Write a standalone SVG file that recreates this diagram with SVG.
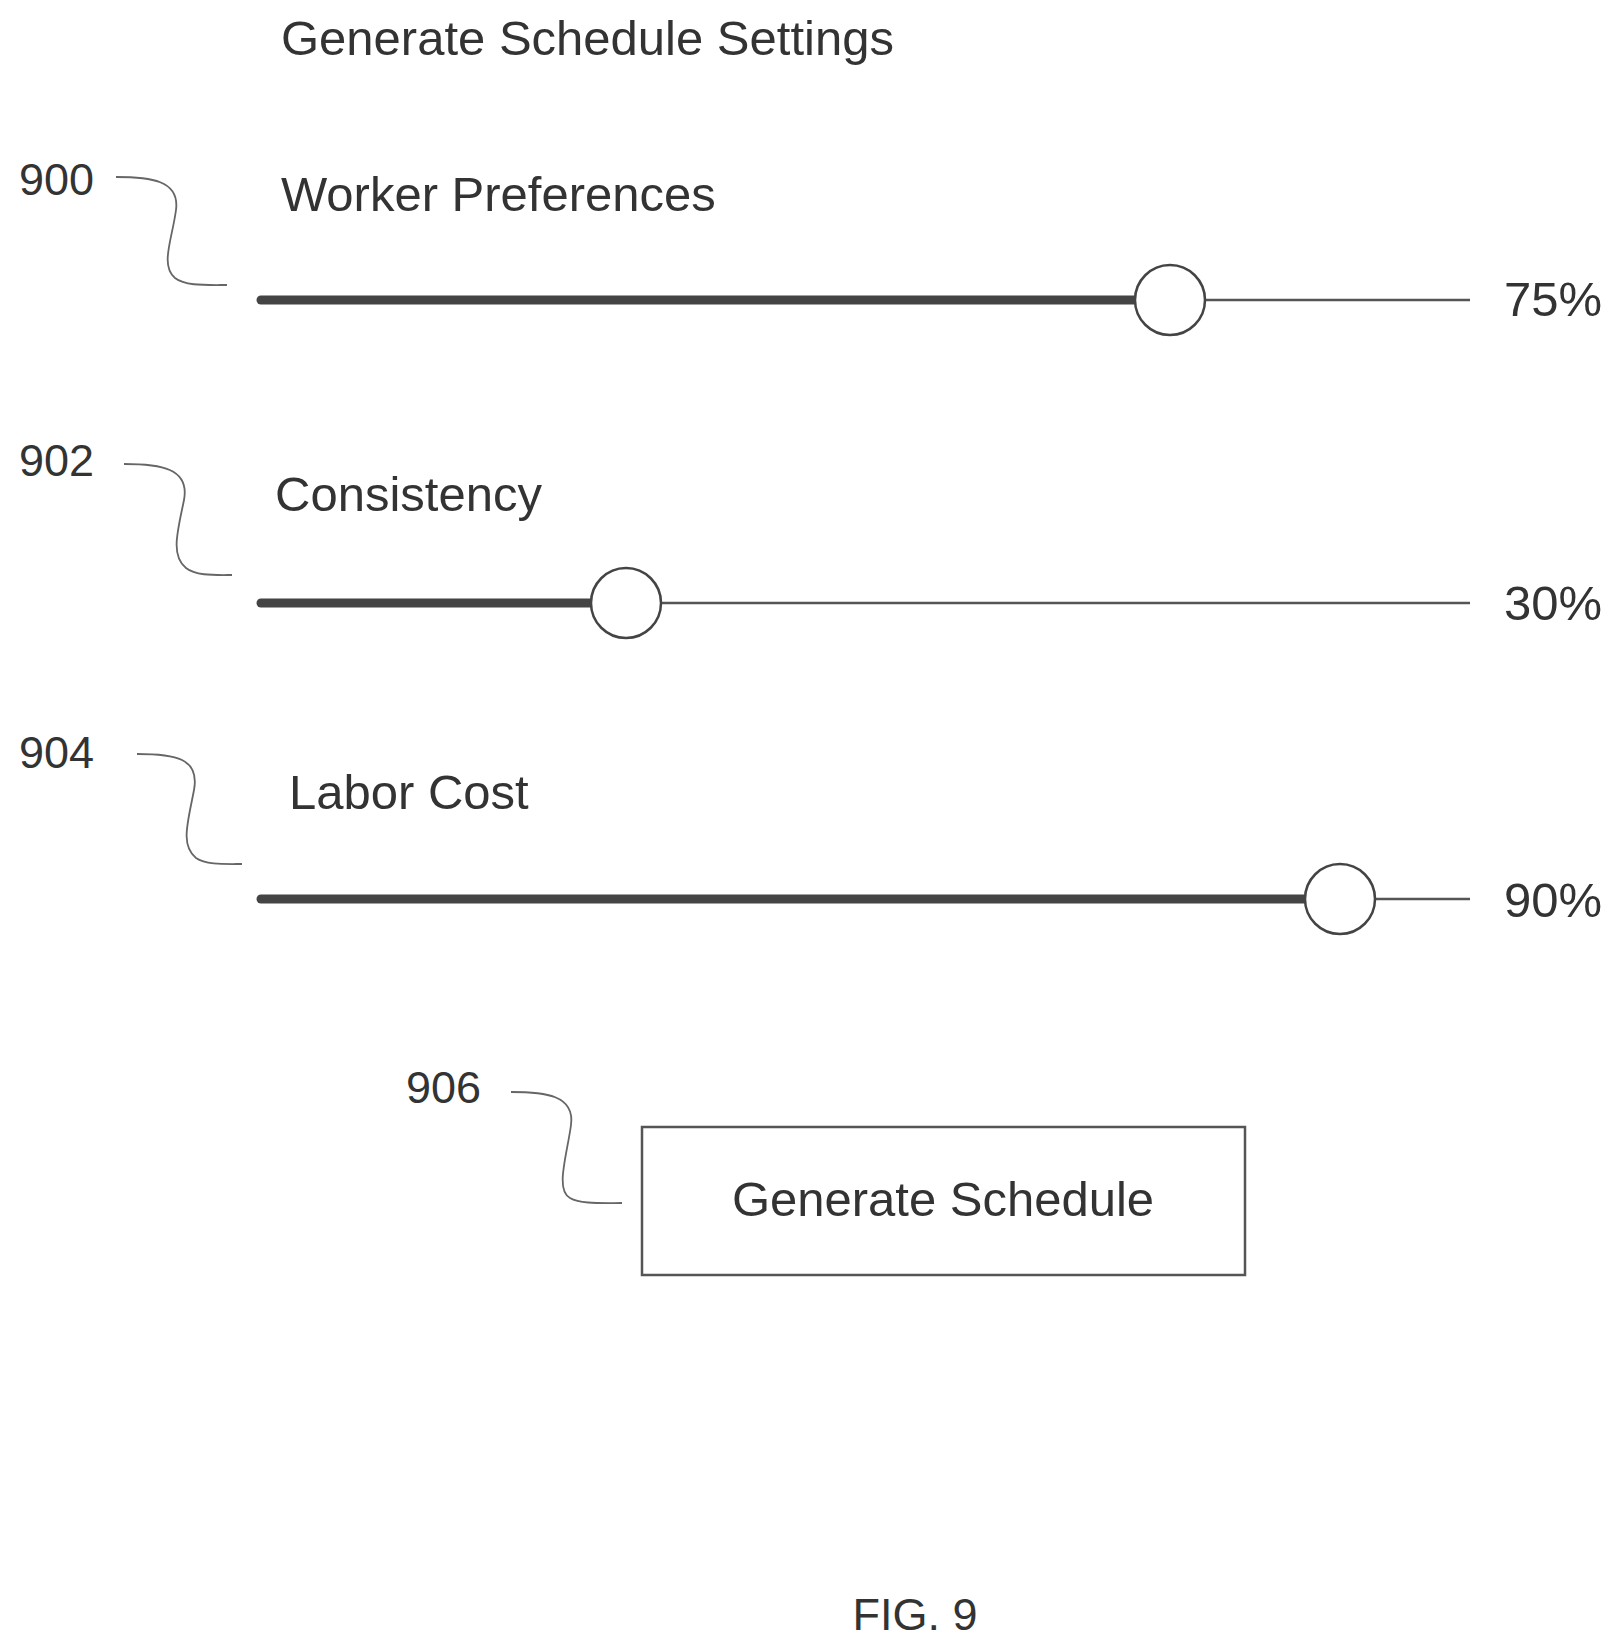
<svg xmlns="http://www.w3.org/2000/svg" width="1619" height="1648" viewBox="0 0 1619 1648">
<style>
text{font-family:"Liberation Sans",Arial,sans-serif;fill:#333}
.t{font-size:49px}
.n{font-size:45px}
.thick{stroke:#444;stroke-width:9;stroke-linecap:round;fill:none}
.thin{stroke:#555;stroke-width:2.5;fill:none}
.knob{fill:#fff;stroke:#444;stroke-width:2.5}
.lead{stroke:#666;stroke-width:1.8;fill:none}
</style>
<rect width="1619" height="1648" fill="#fff"/>
<text class="t" x="281" y="55">Generate Schedule Settings</text>
<g id="connectors">
<path class="lead" d="M116,177 C150,177 180,180 176,210 C172,240 160,265 175,278 C185,286 205,285 227,285"/>
<path class="lead" d="M124,464 C160,464 190,468 184,500 C178,530 170,555 186,568 C196,576 215,575 232,575"/>
<path class="lead" d="M137,754 C175,754 200,758 194,790 C188,822 180,845 196,858 C206,865 225,864 242,864"/>
<path class="lead" d="M511,1092 C545,1092 575,1095 571,1125 C567,1155 555,1190 570,1198 C580,1204 600,1203 622,1203"/>
</g>
<g id="n900">
<text class="n" x="19" y="195">900</text>
<text class="t" x="281" y="211">Worker Preferences</text>
<line class="thin" x1="1170" y1="300" x2="1470" y2="300"/>
<line class="thick" x1="261" y1="300" x2="1140" y2="300"/>
<circle class="knob" cx="1170" cy="300" r="35"/>
<text class="t" x="1504" y="316">75%</text>
</g>
<g id="n902">
<text class="n" x="19" y="476">902</text>
<text class="t" x="275" y="511">Consistency</text>
<line class="thin" x1="626" y1="603" x2="1470" y2="603"/>
<line class="thick" x1="261" y1="603" x2="596" y2="603"/>
<circle class="knob" cx="626" cy="603" r="35"/>
<text class="t" x="1504" y="620">30%</text>
</g>
<g id="n904">
<text class="n" x="19" y="768">904</text>
<text class="t" x="289" y="809">Labor Cost</text>
<line class="thin" x1="1340" y1="899" x2="1470" y2="899"/>
<line class="thick" x1="261" y1="899" x2="1310" y2="899"/>
<circle class="knob" cx="1340" cy="899" r="35"/>
<text class="t" x="1504" y="917">90%</text>
</g>
<g id="n906">
<text class="n" x="406" y="1103">906</text>
<rect x="642" y="1127" width="603" height="148" fill="#fff" stroke="#555" stroke-width="2.5"/>
<text class="t" x="943" y="1216" text-anchor="middle">Generate Schedule</text>
</g>
<text class="n" x="915" y="1630" text-anchor="middle">FIG. 9</text>
</svg>
